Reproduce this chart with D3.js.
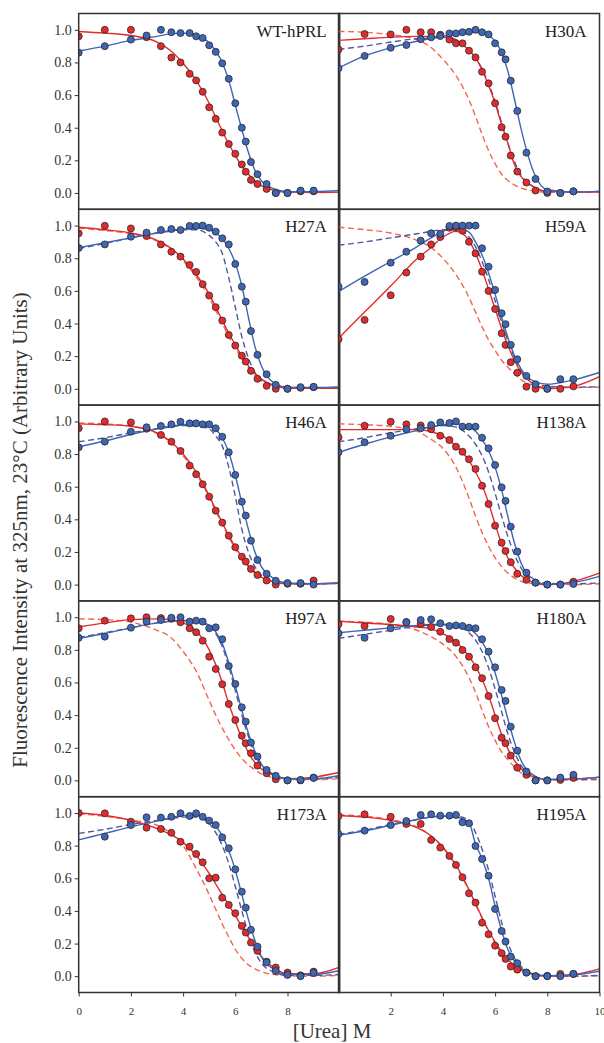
<!DOCTYPE html>
<html>
<head>
<meta charset="utf-8">
<script src="https://cdn.jsdelivr.net/npm/d3@7"></script>
<style>
  html, body { margin: 0; padding: 0; background: #fff; }
  svg { display: block; font-family: 'Liberation Serif', 'Times New Roman', serif; }
</style>
</head>
<body>
<div id="chart"></div>
<script>
// urea concentrations (M) of the measured points, shared by every panel
const urea = [0, 1, 2, 2.6, 3.15, 3.55, 3.9, 4.25, 4.5, 4.75, 5, 5.25, 5.5, 5.75, 6, 6.25, 6.4, 6.6, 6.85, 7.2, 7.55, 8, 8.5, 9]
const fitX = [0, 1, 2, 3, 3.5, 4, 4.5, 5, 5.25, 5.5, 5.75, 6, 6.25, 6.5, 6.75, 7, 7.5, 8, 9, 10]

const yTicks = [0, 0.2, 0.4, 0.6, 0.8, 1.0]
const xTicksLeft = [0, 2, 4, 6, 8]
const xTicksRight = [2, 4, 6, 8, 10]

// WT-hPRL
const wtRed = [0.96, 1.0, 1.0, 0.955, 0.90, 0.83, 0.80, 0.73, 0.69, 0.62, 0.525, 0.455, 0.37, 0.30, 0.24, 0.175, 0.13, 0.08, 0.055, 0.025, 0.0, 0.0, 0.01, 0.01]
const wtBlue = [0.86, 0.90, 0.94, 0.965, 1.0, 0.985, 0.98, 0.98, 0.96, 0.95, 0.905, 0.865, 0.795, 0.70, 0.55, 0.40, 0.315, 0.19, 0.115, 0.055, 0.0, 0.0, 0.015, 0.015]
const wtRedFit = [0.99, 0.98, 0.965, 0.925, 0.875, 0.795, 0.69, 0.55, 0.465, 0.38, 0.30, 0.23, 0.165, 0.115, 0.075, 0.045, 0.015, 0.005, 0.003, 0.005]
const wtBlueFit = [0.87, 0.90, 0.935, 0.96, 0.975, 0.98, 0.965, 0.92, 0.87, 0.80, 0.69, 0.54, 0.39, 0.25, 0.14, 0.075, 0.025, 0.008, 0.008, 0.015]

// H30A
const h30aRed = [0.88, 0.974, 0.972, 1.0, 0.985, 0.985, 0.97, 0.94, 0.917, 0.917, 0.872, 0.831, 0.743, 0.672, 0.55, 0.403, 0.345, 0.229, 0.131, 0.064, 0.015, 0.0, 0.0, 0.01]
const h30aBlue = [0.764, 0.84, 0.89, 0.907, 0.942, 0.954, 0.962, 0.978, 0.978, 0.985, 0.988, 1.0, 0.985, 0.972, 0.917, 0.862, 0.819, 0.688, 0.503, 0.247, 0.086, 0.009, 0.0, 0.01]
const h30aRedFit = [0.935, 0.945, 0.955, 0.96, 0.96, 0.955, 0.935, 0.875, 0.83, 0.755, 0.66, 0.55, 0.42, 0.30, 0.17, 0.10, 0.035, 0.01, 0.005, 0.005]
const h30aRedDash = [0.99, 0.985, 0.97, 0.94, 0.897, 0.82, 0.72, 0.57, 0.47, 0.36, 0.26, 0.18, 0.115, 0.075, 0.048, 0.03, 0.012, 0.005, 0.005, 0.008]
const h30aBlueFit = [0.765, 0.84, 0.89, 0.93, 0.945, 0.96, 0.975, 0.985, 0.985, 0.98, 0.965, 0.93, 0.86, 0.74, 0.57, 0.39, 0.12, 0.02, 0.005, 0.01]
const h30aBlueDash = [0.88, 0.90, 0.925, 0.945, 0.95, 0.955, 0.94, 0.88, 0.83, 0.76, 0.67, 0.56, 0.43, 0.30, 0.19, 0.11, 0.035, 0.01, 0.005, 0.01]

// H27A
const h27aRed = [0.953, 0.999, 0.983, 0.936, 0.885, 0.84, 0.81, 0.759, 0.716, 0.641, 0.571, 0.50, 0.418, 0.33, 0.265, 0.203, 0.167, 0.11, 0.061, 0.018, 0.0, 0.0, 0.006, 0.01]
const h27aBlue = [0.863, 0.885, 0.932, 0.957, 0.973, 0.979, 0.973, 0.998, 0.998, 1.0, 0.987, 0.963, 0.922, 0.885, 0.765, 0.626, 0.534, 0.354, 0.208, 0.089, 0.024, 0.0, 0.01, 0.012]
const h27aRedFit = [0.99, 0.975, 0.955, 0.91, 0.865, 0.795, 0.70, 0.58, 0.50, 0.42, 0.34, 0.27, 0.20, 0.14, 0.095, 0.06, 0.02, 0.005, 0.003, 0.003]
const h27aRedDash = [0.985, 0.97, 0.95, 0.905, 0.86, 0.785, 0.685, 0.56, 0.48, 0.40, 0.32, 0.25, 0.185, 0.13, 0.085, 0.055, 0.018, 0.005, 0.003, 0.003]
const h27aBlueFit = [0.865, 0.895, 0.925, 0.955, 0.97, 0.98, 0.985, 0.975, 0.955, 0.92, 0.86, 0.77, 0.63, 0.44, 0.26, 0.14, 0.035, 0.01, 0.008, 0.012]
const h27aBlueDash = [0.86, 0.89, 0.925, 0.955, 0.965, 0.975, 0.975, 0.94, 0.90, 0.83, 0.68, 0.50, 0.32, 0.19, 0.10, 0.05, 0.015, 0.005, 0.005, 0.008]

// H59A
const h59aRed = [0.304, 0.422, 0.573, 0.712, 0.81, 0.885, 0.93, 0.987, 0.99, 0.969, 0.901, 0.83, 0.718, 0.60, 0.489, 0.34, 0.269, 0.163, 0.099, 0.013, 0.0, 0.0, 0.0, 0.015]
const h59aBlue = [0.626, 0.655, 0.773, 0.84, 0.908, 0.953, 0.95, 0.998, 1.0, 1.0, 1.0, 1.0, 0.861, 0.748, 0.606, 0.463, 0.396, 0.269, 0.181, 0.079, 0.028, 0.0, 0.059, 0.059]
const h59aRedFit = [0.31, 0.47, 0.63, 0.795, 0.86, 0.93, 0.965, 0.91, 0.83, 0.73, 0.61, 0.49, 0.37, 0.26, 0.17, 0.10, 0.025, 0.0, 0.015, 0.075]
const h59aRedDash = [0.99, 0.975, 0.955, 0.91, 0.871, 0.80, 0.70, 0.56, 0.47, 0.38, 0.30, 0.235, 0.175, 0.13, 0.09, 0.055, 0.02, 0.01, 0.008, 0.01]
const h59aBlueFit = [0.595, 0.69, 0.78, 0.87, 0.92, 0.965, 0.985, 0.96, 0.90, 0.82, 0.71, 0.58, 0.44, 0.31, 0.20, 0.12, 0.045, 0.028, 0.055, 0.10]
const h59aBlueDash = [0.88, 0.90, 0.925, 0.95, 0.963, 0.975, 0.975, 0.93, 0.87, 0.78, 0.67, 0.54, 0.41, 0.29, 0.19, 0.11, 0.04, 0.015, 0.01, 0.012]

// H46A
const h46aRed = [0.958, 1.0, 0.994, 0.955, 0.917, 0.876, 0.819, 0.729, 0.676, 0.615, 0.539, 0.453, 0.38, 0.30, 0.229, 0.171, 0.141, 0.096, 0.059, 0.025, 0.0, 0.005, 0.005, 0.025]
const h46aBlue = [0.841, 0.876, 0.937, 0.964, 0.972, 0.982, 0.998, 0.988, 0.988, 0.982, 0.982, 0.958, 0.906, 0.811, 0.672, 0.508, 0.423, 0.269, 0.151, 0.066, 0.023, 0.009, 0.009, 0.0]
const h46aRedFit = [0.985, 0.98, 0.97, 0.93, 0.88, 0.80, 0.69, 0.545, 0.46, 0.38, 0.30, 0.23, 0.17, 0.115, 0.075, 0.045, 0.015, 0.005, 0.005, 0.008]
const h46aRedDash = [0.99, 0.985, 0.97, 0.925, 0.875, 0.79, 0.68, 0.535, 0.45, 0.37, 0.29, 0.22, 0.16, 0.11, 0.07, 0.045, 0.015, 0.005, 0.005, 0.008]
const h46aBlueFit = [0.845, 0.88, 0.92, 0.955, 0.97, 0.98, 0.985, 0.97, 0.95, 0.90, 0.81, 0.67, 0.50, 0.34, 0.20, 0.11, 0.035, 0.01, 0.005, 0.01]
const h46aBlueDash = [0.875, 0.90, 0.93, 0.955, 0.965, 0.975, 0.97, 0.955, 0.91, 0.85, 0.72, 0.54, 0.34, 0.20, 0.11, 0.055, 0.02, 0.005, 0.005, 0.008]

// H138A
const h138aRed = [0.903, 0.974, 0.998, 0.982, 0.975, 0.952, 0.912, 0.886, 0.845, 0.814, 0.768, 0.709, 0.606, 0.494, 0.361, 0.257, 0.206, 0.137, 0.066, 0.029, 0.012, 0.0, 0.0, 0.018]
const h138aBlue = [0.811, 0.872, 0.912, 0.952, 0.958, 0.978, 0.994, 0.99, 1.0, 0.968, 0.968, 0.968, 0.90, 0.835, 0.733, 0.596, 0.513, 0.355, 0.202, 0.073, 0.012, 0.0, 0.0, 0.004]
const h138aRedFit = [0.95, 0.95, 0.95, 0.95, 0.94, 0.91, 0.85, 0.76, 0.69, 0.61, 0.50, 0.37, 0.25, 0.16, 0.10, 0.055, 0.012, 0.0, 0.02, 0.07]
const h138aRedDash = [0.985, 0.98, 0.97, 0.94, 0.895, 0.835, 0.72, 0.53, 0.42, 0.32, 0.235, 0.165, 0.11, 0.07, 0.04, 0.02, 0.005, 0.0, 0.0, 0.005]
const h138aBlueFit = [0.81, 0.86, 0.905, 0.945, 0.965, 0.98, 0.985, 0.97, 0.94, 0.89, 0.82, 0.72, 0.58, 0.41, 0.25, 0.13, 0.03, 0.0, 0.012, 0.05]
const h138aBlueDash = [0.875, 0.90, 0.93, 0.955, 0.965, 0.975, 0.965, 0.91, 0.86, 0.79, 0.69, 0.56, 0.42, 0.29, 0.18, 0.10, 0.03, 0.008, 0.005, 0.01]

// H97A
const h97aRed = [0.932, 0.979, 0.993, 1.0, 0.995, 0.99, 0.969, 0.932, 0.908, 0.856, 0.758, 0.683, 0.589, 0.468, 0.37, 0.274, 0.228, 0.167, 0.091, 0.044, 0.007, 0.0, 0.0, 0.017]
const h97aBlue = [0.874, 0.881, 0.936, 0.973, 0.983, 0.997, 1.0, 0.973, 0.979, 0.973, 0.932, 0.938, 0.865, 0.701, 0.591, 0.448, 0.36, 0.232, 0.146, 0.064, 0.028, 0.0, 0.003, 0.015]
const h97aRedFit = [0.94, 0.965, 0.985, 0.99, 0.985, 0.965, 0.915, 0.80, 0.71, 0.60, 0.47, 0.36, 0.26, 0.17, 0.11, 0.07, 0.03, 0.01, 0.02, 0.05]
const h97aRedDash = [0.99, 0.985, 0.97, 0.92, 0.88, 0.79, 0.67, 0.49, 0.40, 0.32, 0.25, 0.185, 0.135, 0.095, 0.065, 0.04, 0.015, 0.005, 0.005, 0.01]
const h97aBlueFit = [0.87, 0.90, 0.935, 0.965, 0.975, 0.98, 0.975, 0.95, 0.91, 0.84, 0.72, 0.58, 0.43, 0.29, 0.18, 0.10, 0.035, 0.01, 0.01, 0.03]
const h97aBlueDash = [0.875, 0.905, 0.935, 0.965, 0.975, 0.98, 0.97, 0.945, 0.90, 0.82, 0.70, 0.55, 0.40, 0.27, 0.165, 0.09, 0.03, 0.01, 0.01, 0.02]

// H180A
const h180aRed = [0.958, 0.946, 0.989, 0.97, 0.96, 0.94, 0.911, 0.866, 0.844, 0.799, 0.758, 0.693, 0.626, 0.517, 0.381, 0.262, 0.228, 0.152, 0.078, 0.034, 0.0, 0.0, 0.003, 0.015]
const h180aBlue = [0.901, 0.874, 0.932, 0.969, 0.983, 0.987, 0.963, 0.946, 0.95, 0.946, 0.936, 0.932, 0.865, 0.789, 0.693, 0.554, 0.487, 0.329, 0.182, 0.054, 0.0, 0.0, 0.017, 0.034]
const h180aRedFit = [0.975, 0.965, 0.955, 0.94, 0.93, 0.90, 0.85, 0.76, 0.70, 0.62, 0.52, 0.40, 0.28, 0.19, 0.12, 0.07, 0.02, 0.005, 0.008, 0.02]
const h180aRedDash = [0.975, 0.97, 0.955, 0.92, 0.885, 0.835, 0.76, 0.63, 0.54, 0.43, 0.33, 0.245, 0.175, 0.125, 0.08, 0.045, 0.015, 0.005, 0.003, 0.005]
const h180aBlueFit = [0.905, 0.92, 0.935, 0.95, 0.955, 0.955, 0.95, 0.93, 0.90, 0.85, 0.77, 0.66, 0.52, 0.37, 0.23, 0.12, 0.03, 0.005, 0.008, 0.02]
const h180aBlueDash = [0.87, 0.895, 0.92, 0.945, 0.95, 0.955, 0.945, 0.905, 0.86, 0.79, 0.69, 0.56, 0.42, 0.28, 0.17, 0.09, 0.025, 0.005, 0.005, 0.01]

// H173A
const h173aRed = [1.0, 0.998, 0.947, 0.91, 0.902, 0.879, 0.824, 0.794, 0.749, 0.698, 0.60, 0.604, 0.481, 0.437, 0.386, 0.308, 0.267, 0.206, 0.155, 0.089, 0.053, 0.022, 0.005, 0.028]
const h173aBlue = [null, 0.855, 0.926, 0.974, 0.972, 0.977, 0.998, 0.982, 0.998, 0.977, 0.953, 0.926, 0.851, 0.784, 0.655, 0.518, 0.42, 0.284, 0.181, 0.085, 0.032, 0.008, 0.0, 0.02]
const h173aRedFit = [1.0, 0.985, 0.955, 0.905, 0.87, 0.82, 0.74, 0.63, 0.565, 0.50, 0.435, 0.37, 0.305, 0.24, 0.175, 0.12, 0.05, 0.015, 0.015, 0.055]
const h173aRedDash = [0.995, 0.98, 0.957, 0.925, 0.88, 0.80, 0.66, 0.50, 0.41, 0.32, 0.24, 0.165, 0.11, 0.07, 0.045, 0.027, 0.01, 0.003, 0.0, 0.005]
const h173aBlueFit = [0.835, 0.875, 0.915, 0.95, 0.97, 0.985, 0.985, 0.955, 0.92, 0.86, 0.77, 0.65, 0.50, 0.35, 0.22, 0.12, 0.04, 0.01, 0.01, 0.035]
const h173aBlueDash = [0.875, 0.90, 0.93, 0.955, 0.965, 0.975, 0.975, 0.935, 0.88, 0.80, 0.69, 0.55, 0.40, 0.26, 0.15, 0.08, 0.025, 0.005, 0.005, 0.01]

// H195A
const h195aRed = [0.982, 0.992, 0.977, 0.933, 0.933, 0.835, 0.788, 0.737, 0.682, 0.606, 0.508, 0.451, 0.328, 0.257, 0.187, 0.141, 0.106, 0.059, 0.04, 0.022, 0.0, 0.002, 0.014, 0.014]
const h195aBlue = [0.871, 0.892, 0.926, 0.951, 0.988, 0.992, 0.984, 0.984, 0.988, 0.943, 0.937, 0.798, 0.718, 0.616, 0.412, 0.277, 0.212, 0.12, 0.08, 0.022, 0.0, 0.0, 0.0, 0.014]
const h195aRedFit = [0.985, 0.975, 0.955, 0.91, 0.865, 0.79, 0.68, 0.53, 0.445, 0.36, 0.28, 0.21, 0.15, 0.10, 0.065, 0.04, 0.01, 0.0, 0.01, 0.045]
const h195aRedDash = [0.99, 0.98, 0.96, 0.915, 0.865, 0.79, 0.675, 0.525, 0.44, 0.355, 0.275, 0.20, 0.14, 0.095, 0.06, 0.035, 0.008, 0.0, 0.0, 0.003]
const h195aBlueFit = [0.865, 0.89, 0.925, 0.96, 0.975, 0.98, 0.975, 0.94, 0.81, 0.72, 0.60, 0.43, 0.28, 0.16, 0.09, 0.05, 0.012, 0.003, 0.008, 0.03]
const h195aBlueDash = [0.87, 0.895, 0.93, 0.96, 0.975, 0.98, 0.98, 0.955, 0.88, 0.78, 0.65, 0.49, 0.33, 0.20, 0.11, 0.06, 0.015, 0.003, 0.0, 0.005]

const panels = [
  { name: 'WT-hPRL', red: wtRed, blue: wtBlue, redFit: wtRedFit, blueFit: wtBlueFit },
  { name: 'H30A', red: h30aRed, blue: h30aBlue, redFit: h30aRedFit, blueFit: h30aBlueFit, redDash: h30aRedDash, blueDash: h30aBlueDash },
  { name: 'H27A', red: h27aRed, blue: h27aBlue, redFit: h27aRedFit, blueFit: h27aBlueFit, redDash: h27aRedDash, blueDash: h27aBlueDash },
  { name: 'H59A', red: h59aRed, blue: h59aBlue, redFit: h59aRedFit, blueFit: h59aBlueFit, redDash: h59aRedDash, blueDash: h59aBlueDash },
  { name: 'H46A', red: h46aRed, blue: h46aBlue, redFit: h46aRedFit, blueFit: h46aBlueFit, redDash: h46aRedDash, blueDash: h46aBlueDash },
  { name: 'H138A', red: h138aRed, blue: h138aBlue, redFit: h138aRedFit, blueFit: h138aBlueFit, redDash: h138aRedDash, blueDash: h138aBlueDash },
  { name: 'H97A', red: h97aRed, blue: h97aBlue, redFit: h97aRedFit, blueFit: h97aBlueFit, redDash: h97aRedDash, blueDash: h97aBlueDash },
  { name: 'H180A', red: h180aRed, blue: h180aBlue, redFit: h180aRedFit, blueFit: h180aBlueFit, redDash: h180aRedDash, blueDash: h180aBlueDash },
  { name: 'H173A', red: h173aRed, blue: h173aBlue, redFit: h173aRedFit, blueFit: h173aBlueFit, redDash: h173aRedDash, blueDash: h173aBlueDash },
  { name: 'H195A', red: h195aRed, blue: h195aBlue, redFit: h195aRedFit, blueFit: h195aBlueFit, redDash: h195aRedDash, blueDash: h195aBlueDash }
]

const width = 604
const height = 1043
const colX = [[78.7, 339.7], [338.5, 599.5]]
const rowTop = 13.5
const rowH = 195.8
const serif = "'Liberation Serif', 'Times New Roman', serif"

const colors = {
  red: '#e42a2c',
  blue: '#3d66b6',
  redDash: '#f2664f',
  blueDash: '#52569f',
  frame: '#333'
}

const svg = d3.select('#chart').append('svg')
  .attr('width', width)
  .attr('height', height)

const line = (xs) => d3.line()
  .x((d, i) => xs(fitX[i]))
  .curve(d3.curveMonotoneX)

panels.forEach((p, k) => {
  const col = k % 2
  const row = Math.floor(k / 2)
  const top = rowTop + row * rowH

  const x = d3.scaleLinear().domain([0, 10]).range(colX[col])
  const y = d3.scaleLinear().domain([-0.1, 1.1]).range([top + rowH, top])

  const g = svg.append('g')
  const clipId = 'clip' + k
  g.append('clipPath').attr('id', clipId)
    .append('rect')
    .attr('x', colX[col][0]).attr('y', top)
    .attr('width', colX[col][1] - colX[col][0]).attr('height', rowH)

  const plot = g.append('g').attr('clip-path', `url(#${clipId})`)
  const path = line(x).y(d => y(d))

  const curves = [
    { data: p.redDash, color: colors.redDash, dash: '6,3.5' },
    { data: p.blueDash, color: colors.blueDash, dash: '6,3.5' },
    { data: p.redFit, color: colors.red, dash: null },
    { data: p.blueFit, color: colors.blue, dash: null }
  ].filter(c => c.data)

  plot.selectAll('path.fit')
    .data(curves)
    .enter().append('path')
    .attr('class', 'fit')
    .attr('d', c => path(c.data))
    .attr('fill', 'none')
    .attr('stroke', c => c.color)
    .attr('stroke-width', 1.4)
    .attr('stroke-dasharray', c => c.dash)

  const drawPoints = (vals, color) => {
    plot.append('g')
      .selectAll('circle')
      .data(urea.map((u, i) => [u, vals[i]]).filter(d => d[1] != null))
      .enter().append('circle')
      .attr('cx', d => x(d[0]))
      .attr('cy', d => y(d[1]))
      .attr('r', 3.5)
      .attr('fill', color)
      .attr('stroke', '#2a2a2a')
      .attr('stroke-width', 0.8)
  }
  drawPoints(p.red, colors.red)
  drawPoints(p.blue, colors.blue)

  // frame
  g.append('rect')
    .attr('x', colX[col][0]).attr('y', top)
    .attr('width', colX[col][1] - colX[col][0]).attr('height', rowH)
    .attr('fill', 'none')
    .attr('stroke', colors.frame)
    .attr('stroke-width', 1.5)

  g.append('text')
    .attr('x', colX[col][1] - 13)
    .attr('y', top + 23)
    .attr('text-anchor', 'end')
    .attr('font-size', 17)
    .attr('fill', '#222')
    .text(p.name)

  if (col === 0) {
    const ax = g.append('g')
      .attr('transform', `translate(${colX[0][0]},0)`)
      .call(d3.axisLeft(y).tickValues(yTicks).tickFormat(d3.format('.1f')).tickSize(4).tickPadding(3))
    ax.select('.domain').remove()
    ax.selectAll('line').attr('stroke', colors.frame)
    ax.selectAll('text').attr('font-size', 14).attr('fill', '#333')
      .style('font-family', serif)
  }

  if (row === 4) {
    const ax = g.append('g')
      .attr('transform', `translate(0,${top + rowH})`)
      .call(d3.axisBottom(x).tickValues(col === 0 ? xTicksLeft : xTicksRight).tickFormat(d3.format('d')).tickSize(4).tickPadding(11))
    ax.select('.domain').remove()
    ax.selectAll('line').attr('stroke', colors.frame)
    ax.selectAll('text').attr('font-size', 11).attr('fill', '#333')
      .style('font-family', serif)
  }
})

svg.append('text')
  .attr('x', 332)
  .attr('y', 1038)
  .attr('text-anchor', 'middle')
  .attr('font-size', 21)
  .attr('fill', '#333')
  .text('[Urea] M')

svg.append('text')
  .attr('transform', 'translate(27,530) rotate(-90)')
  .attr('text-anchor', 'middle')
  .attr('font-size', 21)
  .attr('fill', '#333')
  .text('Fluorescence Intensity at 325nm, 23°C (Arbitrary Units)')
</script>
</body>
</html>
